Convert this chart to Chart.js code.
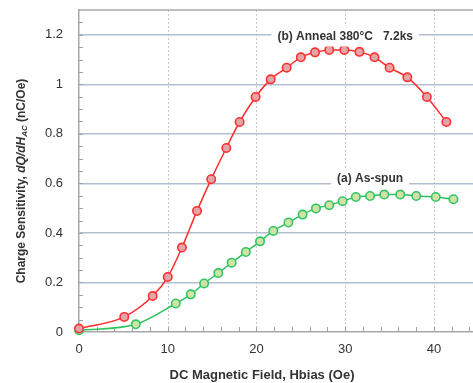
<!DOCTYPE html>
<html>
<head>
<meta charset="utf-8">
<script src="https://cdn.jsdelivr.net/npm/chart.js@4"></script>
<style>
  html, body { margin: 0; padding: 0; background: #fff; }
  #wrap { width: 473px; height: 383px; }
</style>
</head>
<body>
<div id="wrap"><canvas id="myChart" width="473" height="383"></canvas></div>
<script>
// (b) Anneal 380C 7.2ks
const annealX = [0, 5.1, 8.3, 10.0, 11.6, 13.3, 14.9, 16.6, 18.1, 19.9, 21.6, 23.4, 25.0, 26.6, 28.2, 29.9, 31.6, 33.3, 35.0, 37.0, 39.2, 41.4];
const annealY = [0.014, 0.061, 0.145, 0.222, 0.341, 0.489, 0.617, 0.743, 0.848, 0.949, 1.020, 1.067, 1.109, 1.129, 1.139, 1.139, 1.131, 1.109, 1.067, 1.028, 0.949, 0.848];
// (a) As-spun
const spunX = [0, 6.4, 10.9, 12.6, 14.1, 15.7, 17.2, 18.8, 20.4, 21.9, 23.6, 25.2, 26.7, 28.2, 29.7, 31.2, 32.8, 34.4, 36.2, 38.0, 40.2, 42.2];
const spunY = [0.007, 0.031, 0.115, 0.152, 0.196, 0.238, 0.280, 0.323, 0.366, 0.408, 0.442, 0.474, 0.499, 0.512, 0.528, 0.545, 0.549, 0.555, 0.555, 0.549, 0.545, 0.536];
const xTicks = [0, 10, 20, 30, 40];
const yTicks = [0, 0.2, 0.4, 0.6, 0.8, 1, 1.2];

const FONT = "'Liberation Sans', Arial, sans-serif";

function toPoints(xs, ys) {
  return xs.map((x, i) => ({ x: x, y: ys[i] }));
}

// minor ticks, annotation labels and axis titles
const extras = {
  id: 'extras',
  beforeDatasetsDraw(chart) {
    const ctx = chart.ctx;
    const xs = chart.scales.x, ys = chart.scales.y;
    const a = chart.chartArea;
    ctx.save();
    ctx.strokeStyle = '#a0a0a0';
    ctx.lineWidth = 1;
    ctx.beginPath();
    for (let v = 2; v <= 44; v += 2) {
      const px = Math.round(xs.getPixelForValue(v)) + 0.5;
      ctx.moveTo(px, a.bottom);
      ctx.lineTo(px, a.bottom - 5);
    }
    for (let v = 0.05; v < 1.3; v += 0.05) {
      const py = Math.round(ys.getPixelForValue(v)) + 0.5;
      ctx.moveTo(a.left, py);
      ctx.lineTo(a.left + 4, py);
    }
    ctx.stroke();
    ctx.restore();
  },
  afterDraw(chart) {
    const ctx = chart.ctx;
    const xs = chart.scales.x, ys = chart.scales.y;
    ctx.save();
    // annotation labels
    function label(text, cx, cy) {
      ctx.font = 'bold 12px ' + FONT;
      const w = ctx.measureText(text).width;
      ctx.fillStyle = '#fff';
      ctx.fillRect(cx - w / 2 - 6, cy - 10, w + 12, 20);
      ctx.fillStyle = '#333';
      ctx.textAlign = 'center';
      ctx.textBaseline = 'middle';
      ctx.fillText(text, cx, cy);
    }
    label('(b) Anneal 380\u00b0C   7.2ks', xs.getPixelForValue(30.0), ys.getPixelForValue(1.193));
    label('(a) As-spun', xs.getPixelForValue(32.8), ys.getPixelForValue(0.617));

    // x title
    ctx.fillStyle = '#333';
    ctx.font = 'bold 13px ' + FONT;
    ctx.textAlign = 'center';
    ctx.textBaseline = 'middle';
    ctx.fillText('DC Magnetic Field, Hbias (Oe)', 262, 375);

    // y title with italic parts and subscript
    const parts = [
      { t: 'Charge Sensitivity, ', f: 'bold 12px ' + FONT, dy: 0 },
      { t: 'dQ/dH', f: 'italic bold 12px ' + FONT, dy: 0 },
      { t: 'AC', f: 'italic bold 8px ' + FONT, dy: 3 },
      { t: ' (nC/Oe)', f: 'bold 12px ' + FONT, dy: 0 }
    ];
    let total = 0;
    parts.forEach(p => { ctx.font = p.f; p.w = ctx.measureText(p.t).width; total += p.w; });
    ctx.translate(22, 181);
    ctx.rotate(-Math.PI / 2);
    ctx.textAlign = 'left';
    let pos = -total / 2;
    parts.forEach(p => {
      ctx.font = p.f;
      ctx.fillText(p.t, pos, p.dy);
      pos += p.w;
    });
    ctx.restore();
  }
};

const formChartContext = document.getElementById('myChart').getContext('2d');
let myChart = new Chart(formChartContext, {
  type: 'line',
  data: {
    datasets: [
      {
        label: '(b) Anneal 380C 7.2ks',
        data: toPoints(annealX, annealY),
        borderColor: '#ff2a2a',
        backgroundColor: '#e3a5a8',
        pointBorderColor: '#ff3030',
        pointBackgroundColor: '#e3a5a8',
        borderWidth: 1.5,
        pointRadius: 4.2,
        pointBorderWidth: 1.6,
        cubicInterpolationMode: 'monotone',
      },
      {
        label: '(a) As-spun',
        data: toPoints(spunX, spunY),
        borderColor: '#2cc35c',
        backgroundColor: '#cfe3a6',
        pointBorderColor: '#33c563',
        pointBackgroundColor: '#cfe3a6',
        borderWidth: 1.5,
        pointRadius: 4.2,
        pointBorderWidth: 1.6,
        cubicInterpolationMode: 'monotone',
      },
    ],
  },
  options: {
    responsive: false,
    animation: false,
    clip: false,
    layout: { autoPadding: false, padding: { top: 10, right: 0, left: 0, bottom: 0 } },
    plugins: { legend: { display: false }, tooltip: { enabled: false } },
    scales: {
      x: {
        type: 'linear',
        min: 0,
        max: 44.4,
        afterBuildTicks: (s) => { s.ticks = xTicks.map(v => ({ value: v })); },
        afterFit: (s) => { s.height = 51; s.paddingLeft = 0; s.paddingRight = 0; },
        grid: { display: false, drawTicks: false },
        border: { color: '#a8a8a8', width: 1.5 },
        ticks: {
          color: '#333',
          font: { family: FONT, size: 13 },
          padding: 10,
          maxRotation: 0,
        },
      },
      y: {
        min: 0,
        max: 1.3,
        afterBuildTicks: (s) => { s.ticks = yTicks.map(v => ({ value: v })); },
        afterFit: (s) => { s.width = 79; s.paddingTop = 0; s.paddingBottom = 0; },
        grid: {
          color: (c) => (c.tick && c.tick.value === 0 ? 'rgba(0,0,0,0)' : '#b3bfcf'),
          lineWidth: 1.5,
          drawTicks: false,
        },
        border: { color: '#a8a8a8', width: 1.5 },
        ticks: {
          color: '#333',
          font: { family: FONT, size: 13 },
          padding: 16,
          callback: (v) => String(v),
        },
      },
    },
  },
  plugins: [
    extras,
    {
      id: 'frame',
      beforeDraw(chart) {
        const ctx = chart.ctx;
        const a = chart.chartArea;
        ctx.save();
        // dotted vertical grid
        ctx.strokeStyle = '#c8c8c8';
        ctx.setLineDash([2, 2]);
        ctx.lineWidth = 1;
        ctx.beginPath();
        xTicks.slice(1).forEach(v => {
          const px = Math.round(chart.scales.x.getPixelForValue(v)) + 0.5;
          ctx.moveTo(px, a.top);
          ctx.lineTo(px, a.bottom);
        });
        ctx.stroke();
        ctx.setLineDash([]);
        ctx.strokeStyle = '#a8a8a8';
        ctx.lineWidth = 1.5;
        ctx.beginPath();
        ctx.moveTo(a.left, a.top);
        ctx.lineTo(a.right, a.top);
        ctx.stroke();
        ctx.restore();
      },
    },
  ],
});
</script>
</body>
</html>
